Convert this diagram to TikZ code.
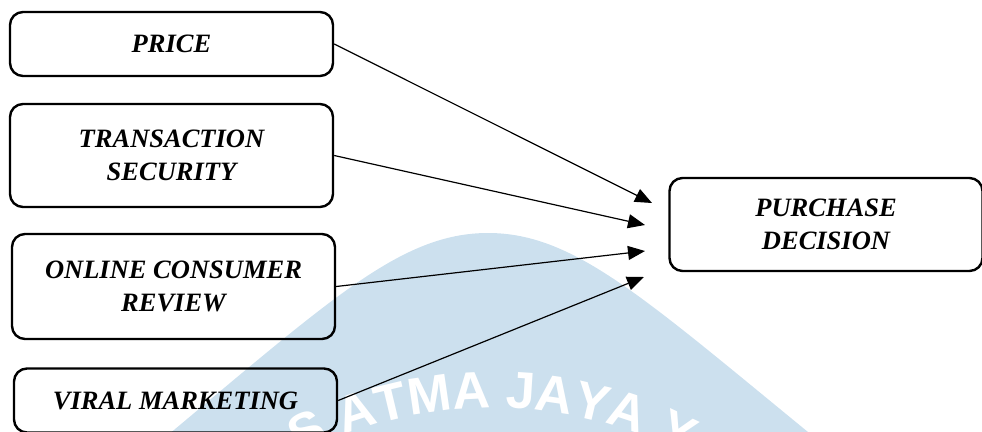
\documentclass[tikz,border=0pt]{standalone}
\usepackage{fontspec}
\setmainfont{Liberation Serif}
\newfontfamily\wmfont{Liberation Sans}
\usetikzlibrary{positioning,arrows.meta,decorations.text}
\definecolor{wmblue}{RGB}{204,224,238}

\begin{document}
\begin{tikzpicture}[x=1pt,y=-1pt,
  varbox/.style={draw,line width=2.4pt,rounded corners=13pt,align=center,inner sep=0pt,
    font=\fontsize{26.5}{33}\selectfont\bfseries\itshape,minimum width=323pt},
  link/.style={line width=1.2pt,-{Triangle[length=17pt,width=14pt]}}]
\useasboundingbox (0,0) rectangle (982,431);
\clip (0,0) rectangle (982,431);
% watermark in the background
\fill[wmblue] (150,450) .. controls (330,300) and (400,233) .. (488,233)
  .. controls (576,233) and (646,300) .. (830,450) -- cycle;
\path[decorate,decoration={text along path,text align=center,text color=white,
  text={|\wmfont\bfseries\fontsize{52}{52}\selectfont|S ATMA JAYA Y}}]
  (492,828) ++(-150:420) arc[start angle=-150,end angle=-30,radius=420];
% variables
\node[varbox,minimum height=64pt] (price) at (171.5,44) {PRICE};
\node[varbox,minimum height=103pt] (trans) at (171.5,155.5) {TRANSACTION\\SECURITY};
\node[varbox,minimum height=105pt] (review) at (173.5,286.5) {ONLINE CONSUMER\\REVIEW};
\node[varbox,minimum height=64pt] (viral) at (175.5,400.5) {VIRAL MARKETING};
\node[varbox,minimum width=313pt,minimum height=93pt] (decision) at (826,224.5) {PURCHASE\\DECISION};
% arrow tips stop short of the decision box
\coordinate (t1) at (652,203);
\coordinate (t2) at (645,225);
\coordinate (t3) at (645,251);
\coordinate (t4) at (644,277);
\foreach \src/\tip in {price/t1,trans/t2,review/t3,viral/t4}
  \draw[link] (\src.east) -- (\tip);
\end{tikzpicture}
\end{document}
